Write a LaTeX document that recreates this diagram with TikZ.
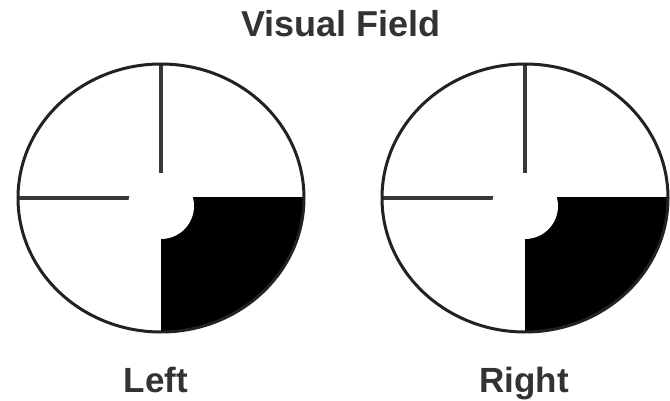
\documentclass[tikz,border=0pt]{standalone}
\usepackage{fontspec}
\setmainfont{Liberation Sans}
\definecolor{ink}{HTML}{222222}
\definecolor{txt}{HTML}{333333}
\tikzset{
  rim/.style={draw=ink, line width=3pt},
  axis/.style={draw=ink!90, line width=3.5pt},
  lbl/.style={font=\bfseries\fontsize{36}{40}\selectfont, text=txt, anchor=base, inner sep=0pt},
}
\newcommand{\fieldeye}[3]{%
  % #1 centre x, #2 centre y, #3 name
  \coordinate (#3c) at (#1,#2);
  \begin{scope}
    \clip (#1,#2) rectangle ++(150,150);
    \fill[black] (#3c) ellipse [x radius=143, y radius=134];
  \end{scope}
  \draw[axis] (#1,65) -- (#1,#2);
  \draw[axis] (#1-143,#2) -- (#3c);
  \fill[white] (#1,#2+8) circle [radius=33];
  \draw[rim] (#3c) ellipse [x radius=143, y radius=134];
}
\begin{document}
\begin{tikzpicture}[x=1pt,y=-1pt]
  \useasboundingbox (0,0) rectangle (670,401);
  \fill[white] (0,0) rectangle (670,401);
  \fieldeye{161}{198}{L}
  \fieldeye{525}{198}{R}
  \node[lbl] (title) at (341,37) {Visual Field};
  \node[lbl, font=\bfseries\fontsize{35}{40}\selectfont] (left) at (156,392) {Left};
  \node[lbl, font=\bfseries\fontsize{35}{40}\selectfont] (right) at (524,392) {Right};
\end{tikzpicture}
\end{document}
